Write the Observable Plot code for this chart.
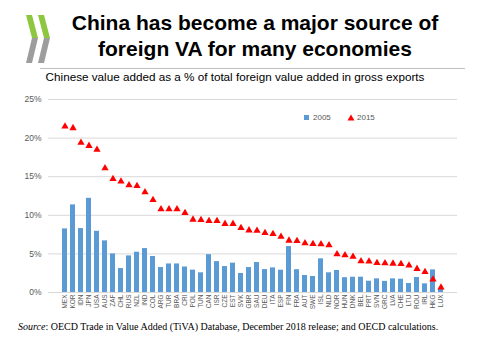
<!DOCTYPE html>
<html>
<head>
<meta charset="utf-8">
<script src="https://cdn.jsdelivr.net/npm/d3@7"></script>
<script src="https://cdn.jsdelivr.net/npm/@observablehq/plot@0.6"></script>
<style>
  html, body { margin: 0; padding: 0; background: #fff; }
  #wrap { position: relative; width: 480px; height: 360px; overflow: hidden; font-family: "Liberation Sans", Arial, sans-serif; }
  #logo { position: absolute; left: 0; top: 0; }
  #title { position: absolute; left: 55px; width: 400px; top: 10px; text-align: center; font-weight: bold; font-size: 21px; line-height: 26px; color: #000; }
  #hr { position: absolute; left: 40px; width: 425px; top: 68px; height: 0; border-top: 1px solid #BFBFBF; }
  #sub { position: absolute; left: 0; width: 470px; top: 70px; text-align: center; font-size: 11.7px; color: #000; }
  #chart { position: absolute; left: 0; top: 88px; }
  #legend { position: absolute; top: 113px; left: 304px; font-size: 8px; color: #595959; }
  #legend span { position: absolute; white-space: nowrap; }
  #source { position: absolute; left: 18px; top: 321px; font-family: "Liberation Serif", "DejaVu Serif", serif; font-size: 10px; color: #000; white-space: nowrap; }
</style>
</head>
<body>
<div id="wrap">
  <svg id="logo" width="60" height="70">
    <polygon points="26,15 32,15 38,38 32,38" fill="#8DC63F"/>
    <polygon points="32,38 38,38 32,63 26,63" fill="#9D9D9D"/>
    <polygon points="38,15 44,15 50,38 44,38" fill="#8DC63F"/>
    <polygon points="44,38 50,38 44,63 38,63" fill="#9D9D9D"/>
  </svg>
  <div id="title">China has become a major source of<br>foreign VA for many economies</div>
  <div id="hr"></div>
  <div id="sub">Chinese value added as a % of total foreign value added in gross exports</div>
  <div id="chart"></div>
  <div id="legend">
    <span style="left:0;top:2px;width:5px;height:5px;background:#5B9BD5;"></span>
    <span style="left:9px;top:0;">2005</span>
    <svg style="position:absolute;left:43px;top:1px;" width="8" height="7"><polygon points="4,0.5 7.5,6.5 0.5,6.5" fill="#FF0000"/></svg>
    <span style="left:53px;top:0;">2015</span>
  </div>
  <div id="source"><i>Source</i>: OECD Trade in Value Added (TiVA) Database, December 2018 release; and OECD calculations.</div>
</div>
<script>
const countries = ["MEX","KOR","IDN","JPN","USA","AUS","ZAF","CHL","RUS","NZL","IND","COL","ARG","TUR","BRA","CRI","POL","TUN","CAN","ISR","CZE","EST","SVK","GBR","SAU","DEU","ITA","ESP","FIN","FRA","AUT","SWE","ISL","NLD","NOR","HUN","DNK","BEL","PRT","SVN","GRC","LVA","CHE","LTU","ROU","IRL","HKG","LUX"];
const v2005 = [8.24,11.35,8.28,12.2,7.93,6.69,5.0,3.1,4.74,5.22,5.69,4.66,3.23,3.7,3.7,3.3,2.9,2.55,4.9,4.0,3.36,3.8,2.46,3.23,3.88,2.97,3.19,2.89,5.95,2.95,2.2,2.07,4.36,2.55,2.85,1.92,1.98,1.98,1.46,1.77,1.44,1.77,1.72,1.16,1.94,1.12,2.93,0.4];
const v2015 = [21.5,21.3,19.4,19.0,18.5,16.1,14.7,14.4,13.9,13.8,13.0,12.0,10.8,10.8,10.8,10.3,9.45,9.4,9.27,9.27,8.9,8.9,8.37,8.06,8.02,7.72,7.6,7.24,6.73,6.69,6.38,6.3,6.27,6.12,4.96,4.83,4.63,4.05,4.02,3.84,3.8,3.75,3.7,3.52,3.07,2.67,1.7,0.65];
const yTicks = [0,5,10,15,20,25];

const rows = countries.map((c, i) => ({c, v05: v2005[i], v15: v2015[i]}));

const chart = Plot.plot({
  width: 480,
  height: 225,
  marginTop: 11,
  marginBottom: 21,
  marginLeft: 48,
  marginRight: 23,
  style: {fontFamily: "'Liberation Sans', Arial, sans-serif", color: "#595959", background: "transparent"},
  x: {domain: countries, padding: 0.35, axis: null},
  y: {domain: [0, 25], axis: null},
  marks: [
    Plot.gridY(yTicks, {stroke: "#D9D9D9", strokeOpacity: 1}),
    Plot.barY(rows, {x: "c", y: "v05", fill: "#5B9BD5"}),
    Plot.dot(rows, {x: "c", y: "v15", symbol: "triangle", fill: "#FF0000", r: 2.7}),
    Plot.axisY({ticks: yTicks, tickFormat: d => d + "%", tickSize: 0, tickPadding: 7, fontSize: 8.5, label: null}),
    Plot.axisX({tickSize: 0, tickRotate: -90, tickPadding: 2, fontSize: 6.5, label: null})
  ]
});
document.getElementById("chart").appendChild(chart);
</script>
</body>
</html>
